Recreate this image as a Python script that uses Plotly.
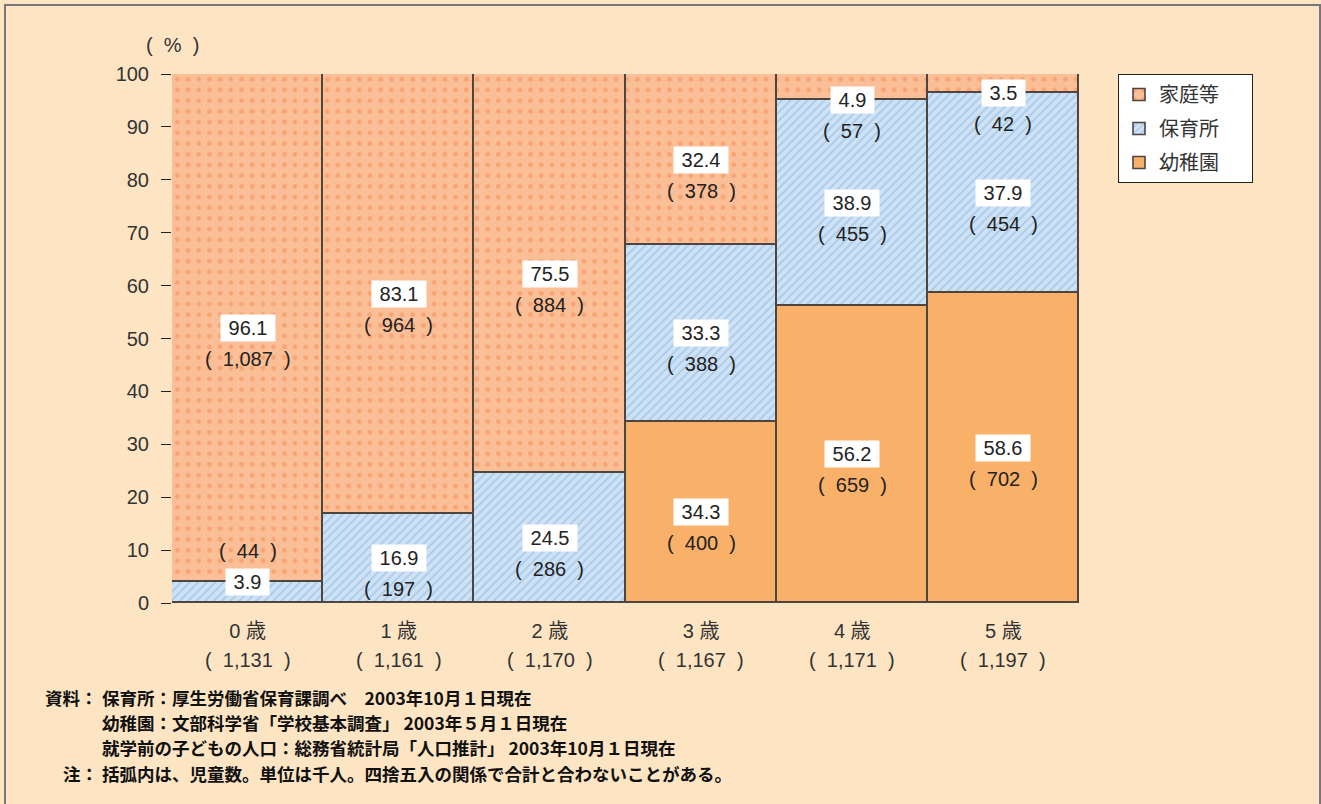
import plotly.graph_objects as go

categories = ["0 歳", "1 歳", "2 歳", "3 歳", "4 歳", "5 歳"]
totals = ["1,131", "1,161", "1,170", "1,167", "1,171", "1,197"]

kindergarten = [0, 0, 0, 34.3, 56.2, 58.6]
kindergarten_n = [None, None, None, "400", "659", "702"]
nursery = [3.9, 16.9, 24.5, 33.3, 38.9, 37.9]
nursery_n = ["44", "197", "286", "388", "455", "454"]
home = [96.1, 83.1, 75.5, 32.4, 4.9, 3.5]
home_n = ["1,087", "964", "884", "378", "57", "42"]

BG = "#FDE5C4"
EDGE = "#4d4540"
FONT = "Liberation Sans, Arial, Noto Sans CJK JP, sans-serif"
JFONT = "Liberation Sans, Noto Sans CJK JP, sans-serif"
NB = "\u00a0"
PADN = NB * 5

fig = go.Figure()
fig.add_trace(go.Bar(
    x=categories, y=kindergarten, name="幼稚園" + PADN, legendrank=3, legendgroup="g3",
    marker=dict(color="#F9B16A", line=dict(color=EDGE, width=1.6)),
))
fig.add_trace(go.Bar(
    x=categories, y=nursery, name="保育所" + PADN, legendrank=2, legendgroup="g2",
    marker=dict(color="#CFE1F4", line=dict(color=EDGE, width=1.6),
                pattern=dict(shape="/", size=6, solidity=0.3,
                             fgcolor="#7DB3E0", bgcolor="#CFE1F4", fillmode="overlay")),
))
fig.add_trace(go.Bar(
    x=categories, y=home, name="家庭等" + PADN, legendrank=1, legendgroup="g1",
    marker=dict(color="#FBBF98", line=dict(color=EDGE, width=1.6),
                pattern=dict(shape=".", size=10.7, solidity=0.16,
                             fgcolor="#F5874A", bgcolor="#FBBF98", fillmode="overlay")),
))

ann = []

def add_label(x, y, val, cnt, cnt_shift):
    ann.append(dict(x=x, y=y, xref="x", yref="y", text=f"{NB}{val}{NB}", showarrow=False,
                    bgcolor="white", borderpad=2,
                    font=dict(size=20, color="#222", family=FONT)))
    ann.append(dict(x=x, y=y, xref="x", yref="y", text=f"({NB}{NB}{cnt}{NB}{NB})", showarrow=False,
                    yshift=cnt_shift, font=dict(size=20, color="#222", family=FONT)))

for i, c in enumerate(categories):
    base = 0.0
    k = kindergarten[i]
    if k > 0:
        add_label(c, base + k / 2, k, kindergarten_n[i], -31)
    base += k
    n = nursery[i]
    if n >= 10:
        add_label(c, base + n / 2, n, nursery_n[i], -31)
    else:
        add_label(c, base + n, n, nursery_n[i], 31)
    base += n
    h = home[i]
    if h >= 10:
        add_label(c, base + h / 2, h, home_n[i], -31)
    else:
        add_label(c, base, h, home_n[i], -31)

# totals under category labels
for c, t in zip(categories, totals):
    ann.append(dict(x=c, y=0, xref="x", yref="paper", text=f"({NB}{NB}{t}{NB}{NB})", showarrow=False,
                    yanchor="middle", yshift=-57, font=dict(size=20, color="#333", family=FONT)))

# unit label
ann.append(dict(x=0, y=1, xref="paper", yref="paper", text=f"({NB}{NB}%{NB}{NB})", showarrow=False,
                xanchor="center", yanchor="middle", yshift=29, xshift=0,
                font=dict(size=20, color="#333", family=FONT)))

# footnotes
PW, PH, L, T = 907, 529, 172, 74
def px(xp):
    return (xp - L) / PW
def py(yp):
    return (T + PH - yp) / PH

notes_left = [("資料：", 697), ("注：", 773)]
notes = [("保育所：厚生労働省保育課調べ　2003年10月１日現在", 697),
         ("幼稚園：文部科学省「学校基本調査」 2003年５月１日現在", 722),
         ("就学前の子どもの人口：総務省統計局「人口推計」 2003年10月１日現在", 747.5),
         ("括弧内は、児童数。単位は千人。四捨五入の関係で合計と合わないことがある。", 773)]
for txt, yy in notes_left:
    ann.append(dict(x=px(100), y=py(yy), xref="paper", yref="paper", text=f"<b>{txt}</b>",
                    showarrow=False, xanchor="right", yanchor="middle",
                    font=dict(size=17.5, color="#111", family="Noto Sans CJK JP")))
for txt, yy in notes:
    ann.append(dict(x=px(100), y=py(yy), xref="paper", yref="paper", text=f"<b>{txt}</b>",
                    showarrow=False, xanchor="left", yanchor="middle",
                    font=dict(size=17.5, color="#111", family="Noto Sans CJK JP")))

fig.update_layout(
    width=1321, height=804,
    margin=dict(l=L, r=1321 - L - PW, t=T, b=804 - T - PH),
    paper_bgcolor=BG, plot_bgcolor=BG,
    barmode="stack", bargap=0,
    showlegend=True,
    legend=dict(x=px(1118), y=1.0, xanchor="left", yanchor="top",
                bgcolor="white", bordercolor="#222", borderwidth=1,
                traceorder="grouped", tracegroupgap=5,
                font=dict(size=20, color="#333", family=JFONT)),
    annotations=ann,
    shapes=[dict(type="rect", xref="paper", yref="paper",
                 x0=px(5), x1=px(1320), y0=py(812), y1=py(5),
                 line=dict(color="#777", width=2), fillcolor="rgba(0,0,0,0)", layer="below")],
    xaxis=dict(showgrid=False, zeroline=False, showline=False, ticks="",
               tickfont=dict(size=20, color="#333", family=JFONT),
               ticklabelstandoff=14),
    yaxis=dict(range=[0, 100], dtick=10, showgrid=False, zeroline=False, showline=False,
               ticks="outside", ticklen=10, tickcolor="#222", tickwidth=1.2,
               tickfont=dict(size=20, color="#333", family=FONT),
               ticklabelstandoff=8),
)

fig.write_html("out.html")
